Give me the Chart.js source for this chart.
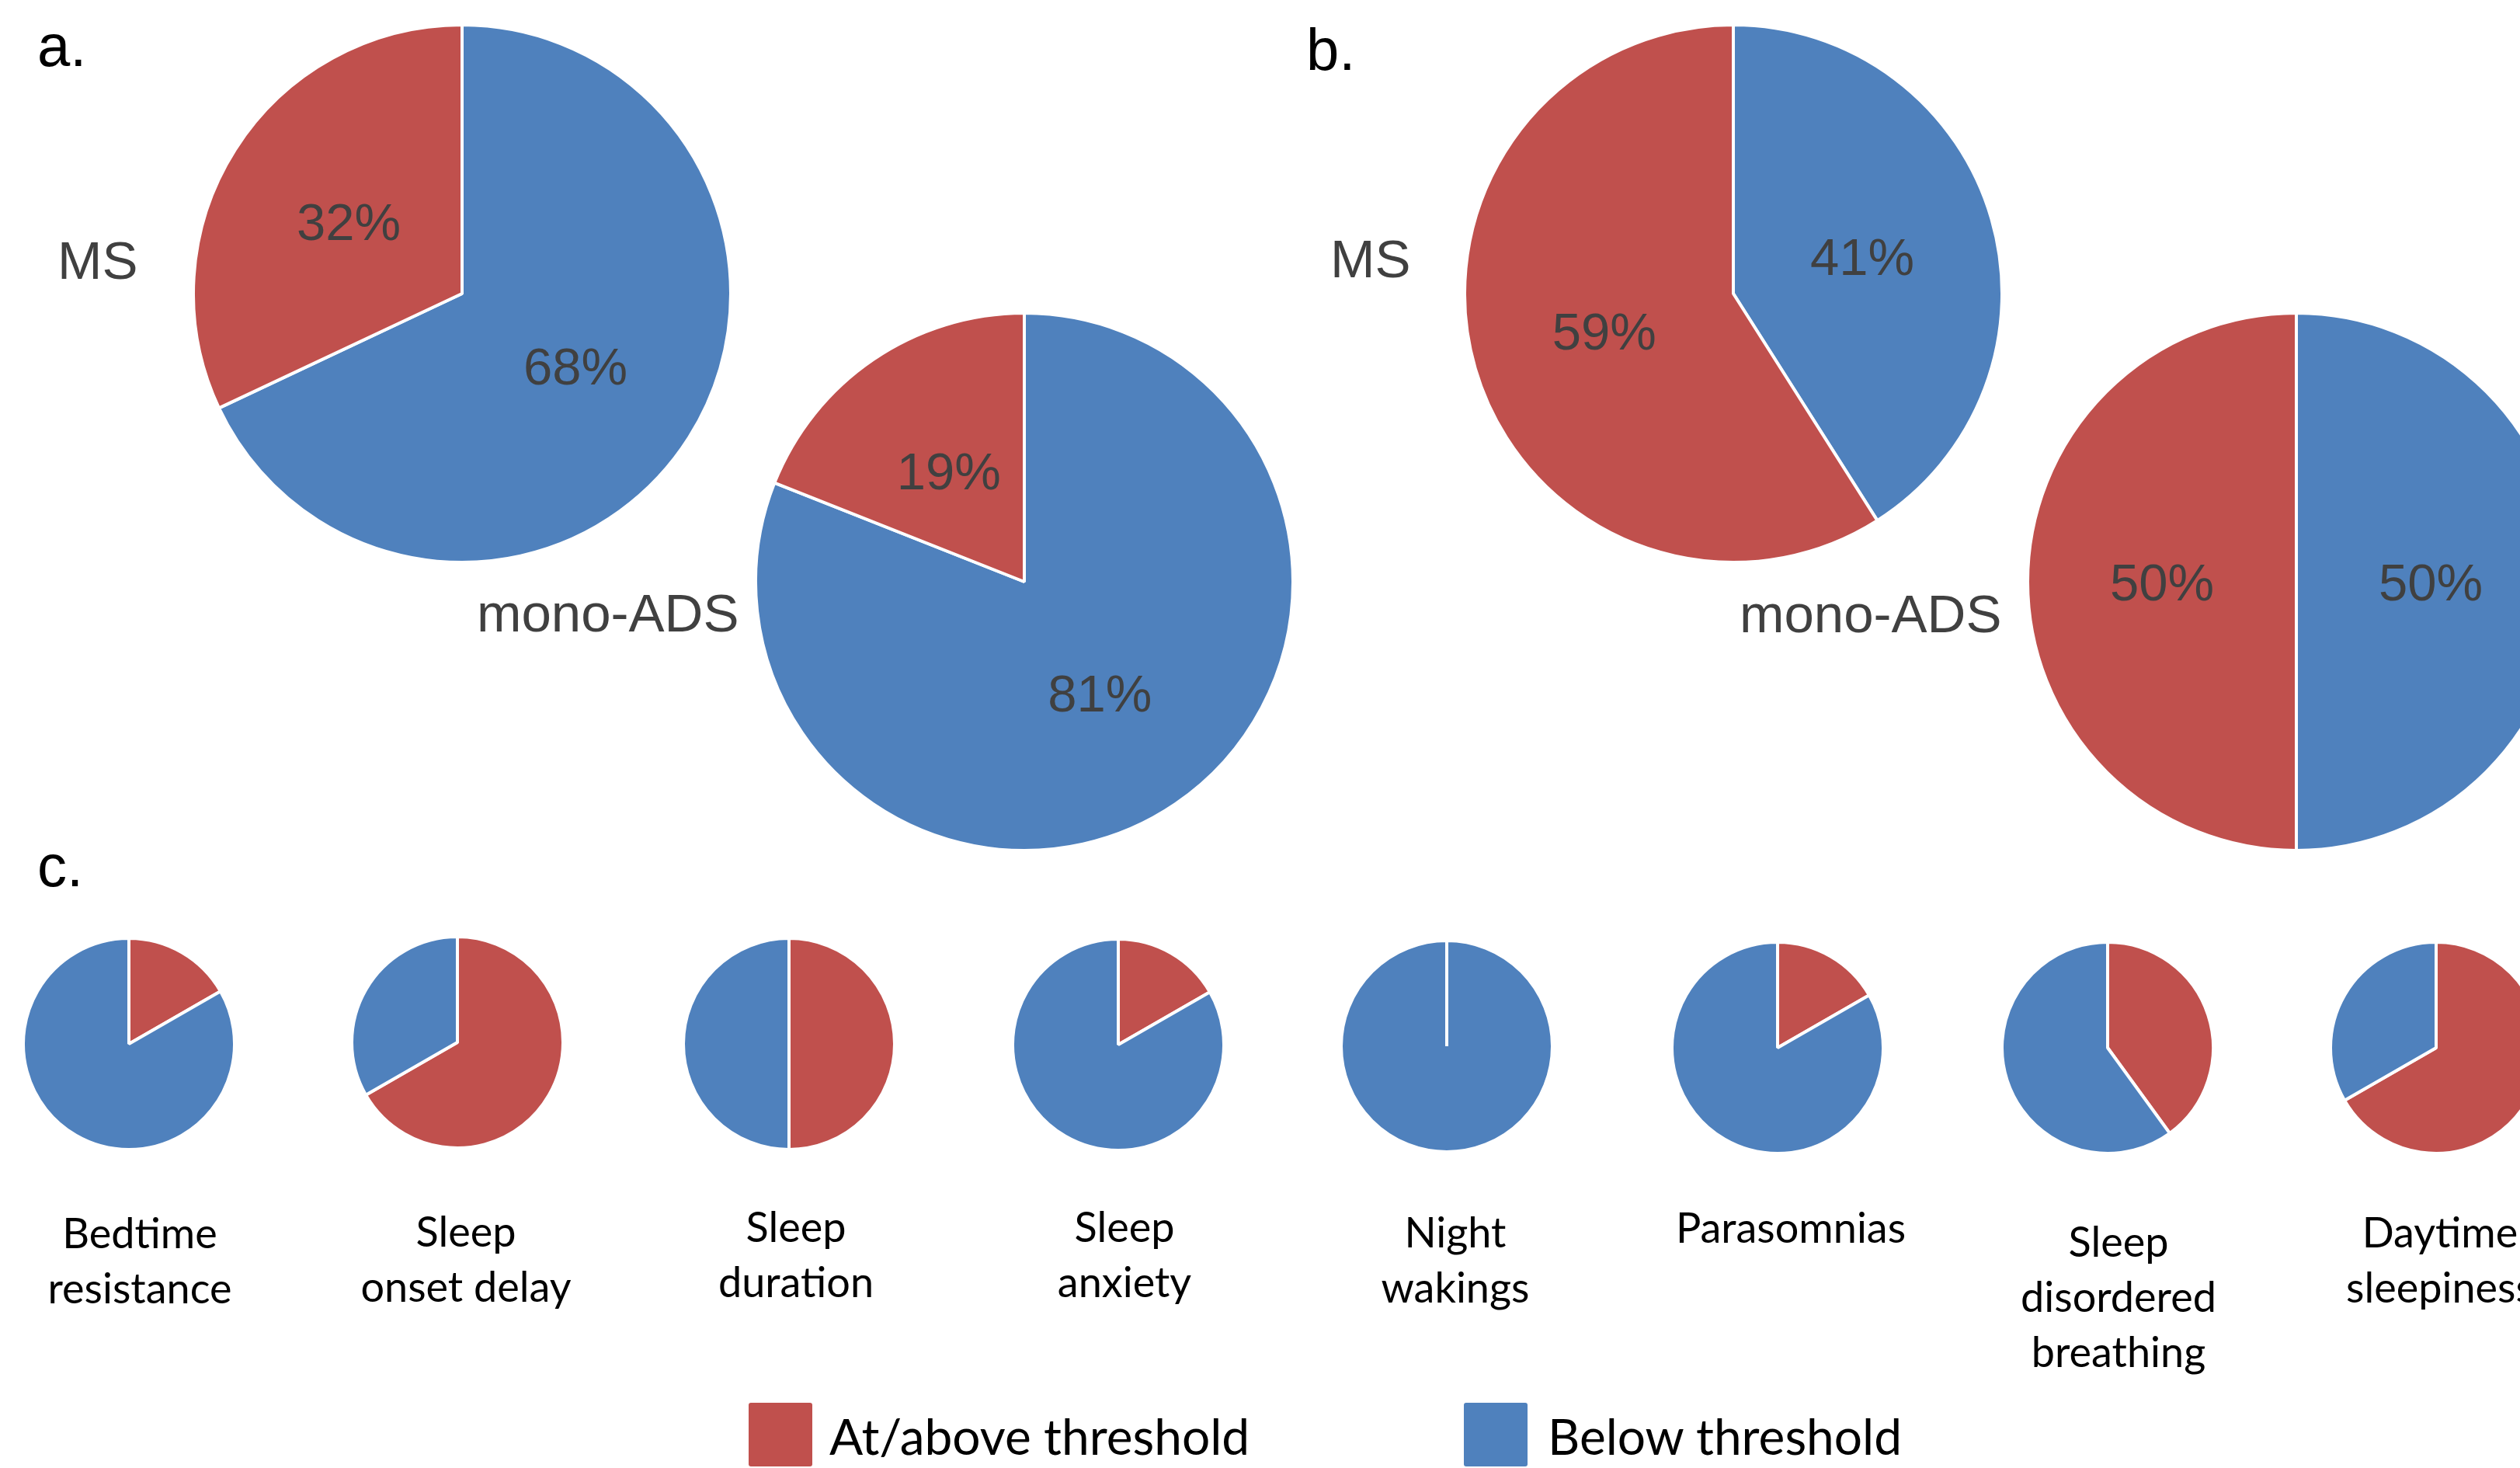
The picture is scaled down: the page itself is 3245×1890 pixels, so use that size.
<!DOCTYPE html>
<html>
<head>
<meta charset="utf-8">
<script src="https://cdn.jsdelivr.net/npm/chart.js@4.4.1/dist/chart.umd.min.js"></script>
<style>
  html, body { margin: 0; padding: 0; background: #fff; }
  body { width: 3245px; height: 1890px; overflow: hidden; position: relative; }
  canvas.pie { position: absolute; }
  #text { position: absolute; left: 0; top: 0; pointer-events: none; }
</style>
</head>
<body>
<svg id="text" width="3245" height="1890" xmlns="http://www.w3.org/2000/svg"></svg>
<script>
// ---- Data -------------------------------------------------------------
// Panels a and b: share of children at/above vs. below threshold (%)
const groups = ['MS', 'mono-ADS'];
const totalAbove = [32, 19];
const totalBelow = [68, 81];
const subscaleAbove = [59, 50];
const subscaleBelow = [41, 50];

// Panel c: sleep domains (%)
const domains = [
  ['Bedtime', 'resistance'],
  ['Sleep', 'onset delay'],
  ['Sleep', 'duration'],
  ['Sleep', 'anxiety'],
  ['Night', 'wakings'],
  ['Parasomnias'],
  ['Sleep', 'disordered', 'breathing'],
  ['Daytime', 'sleepiness']
];
const domainAbove = [16.7, 66.7, 50, 16.7, 0, 16.7, 40, 66.7];
const domainBelow = [83.3, 33.3, 50, 83.3, 100, 83.3, 60, 33.3];

const seriesNames = ['At/above threshold', 'Below threshold'];

// ---- Layout & style ---------------------------------------------------
const RED = '#C0504D';
const BLUE = '#4F81BD';
const GREY = '#404040';
const BORDER = 4;

const bigR = 344;
const panelACenters = [[595, 378], [1319, 749]];
const panelBCenters = [[2232, 378], [2957, 749]];
const groupLabelPos = { a: [[74, 359], [614, 813]], b: [[1713, 357], [2240, 814]] };

const smallR = 134;
const smallX = [166, 589, 1016, 1440, 1863, 2289, 2714, 3137];
const smallY = [1344, 1342, 1344, 1345, 1347, 1349, 1349, 1349];
const domainLabelX = [180, 600, 1025, 1448, 1874, 2306, 2728, 3142];
const domainLabelY = [1607, 1605, 1599, 1599, 1606, 1600, 1618, 1606];
const domainLineGap = 71;

// ---- Value labels drawn inside the slices -----------------------------
const pctLabels = {
  id: 'pctLabels',
  afterDatasetsDraw(chart, args, opts) {
    if (!opts.show) return;
    const { ctx } = chart;
    const meta = chart.getDatasetMeta(0);
    const values = chart.data.datasets[0].data;
    ctx.save();
    ctx.font = opts.size + 'px "Liberation Sans", Arial, sans-serif';
    ctx.fillStyle = GREY;
    ctx.textAlign = 'center';
    ctx.textBaseline = 'alphabetic';
    meta.data.forEach((arc, i) => {
      const p = arc.tooltipPosition();
      ctx.fillText(values[i] + '%', p.x, p.y + opts.size * 0.358);
    });
    ctx.restore();
  }
};

function makePie(cx, cy, r, values, order, showValues) {
  const size = 2 * r + 2 * BORDER;
  const canvas = document.createElement('canvas');
  canvas.className = 'pie';
  canvas.width = size;
  canvas.height = size;
  canvas.style.width = size + 'px';
  canvas.style.height = size + 'px';
  canvas.style.left = (cx - size / 2) + 'px';
  canvas.style.top = (cy - size / 2) + 'px';
  document.body.insertBefore(canvas, document.getElementById('text'));
  const belowFirst = order === 'belowFirst';
  return new Chart(canvas, {
    type: 'pie',
    data: {
      labels: belowFirst ? [seriesNames[1], seriesNames[0]] : seriesNames,
      datasets: [{
        data: values,
        backgroundColor: belowFirst ? [BLUE, RED] : [RED, BLUE],
        borderColor: '#ffffff',
        borderWidth: BORDER
      }]
    },
    options: {
      responsive: false,
      animation: false,
      devicePixelRatio: 1,
      layout: { padding: 0 },
      plugins: {
        legend: { display: false },
        tooltip: { enabled: false },
        pctLabels: { show: showValues, size: 67 }
      }
    },
    plugins: [pctLabels]
  });
}

// Panels a and b: below threshold first, clockwise from 12 o'clock
groups.forEach((g, i) => {
  makePie(panelACenters[i][0], panelACenters[i][1], bigR, [totalBelow[i], totalAbove[i]], 'belowFirst', true);
  makePie(panelBCenters[i][0], panelBCenters[i][1], bigR, [subscaleBelow[i], subscaleAbove[i]], 'belowFirst', true);
});

// Panel c: at/above threshold first
domains.forEach((d, i) => {
  makePie(smallX[i], smallY[i], smallR, [domainAbove[i], domainBelow[i]], 'aboveFirst', false);
});

// ---- Text ---------------------------------------------------------------
const svg = document.getElementById('text');
const NS = 'http://www.w3.org/2000/svg';
function addText(str, x, y, attrs) {
  const t = document.createElementNS(NS, 'text');
  t.setAttribute('x', x);
  t.setAttribute('y', y);
  for (const k in attrs) t.setAttribute(k, attrs[k]);
  t.textContent = str;
  svg.appendChild(t);
  return t;
}
function addRect(x, y, w, h, fill) {
  const r = document.createElementNS(NS, 'rect');
  r.setAttribute('x', x); r.setAttribute('y', y);
  r.setAttribute('width', w); r.setAttribute('height', h);
  r.setAttribute('rx', 3); r.setAttribute('fill', fill);
  svg.appendChild(r);
}

const arial = '"Liberation Sans", Arial, sans-serif';
const calibriLike = 'Lato, "Open Sans", sans-serif';

// Panel letters
[['a.', 48, 85], ['b.', 1682, 90], ['c.', 48, 1141]].forEach(([s, x, y]) =>
  addText(s, x, y, { 'font-family': arial, 'font-size': 76, fill: '#000' }));

// Group labels
groups.forEach((g, i) => {
  addText(g, groupLabelPos.a[i][0], groupLabelPos.a[i][1], { 'font-family': arial, 'font-size': 69, fill: GREY });
  addText(g, groupLabelPos.b[i][0], groupLabelPos.b[i][1], { 'font-family': arial, 'font-size': 69, fill: GREY });
});

// Domain labels under the small pies
domains.forEach((lines, i) => {
  lines.forEach((line, j) => {
    addText(line, domainLabelX[i], domainLabelY[i] + j * domainLineGap,
      { 'font-family': calibriLike, 'font-size': 54, fill: '#000', 'text-anchor': 'middle' });
  });
});

// Legend
addRect(964, 1806, 82, 82, RED);
addText(seriesNames[0], 1068, 1873, { 'font-family': calibriLike, 'font-size': 64, fill: '#000' });
addRect(1885, 1806, 82, 82, BLUE);
addText(seriesNames[1], 1993, 1873, { 'font-family': calibriLike, 'font-size': 64, fill: '#000' });
</script>
</body>
</html>
